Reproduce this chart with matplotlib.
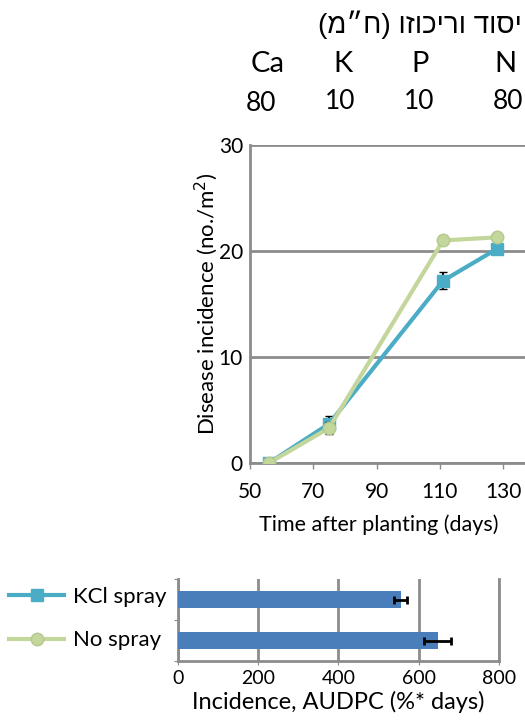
import matplotlib.pyplot as plt
from matplotlib.lines import Line2D

# data
dias = [56, 75, 111, 128]
kcl = [0.0, 3.7, 17.2, 20.2]
kcl_err = [0.3, 0.7, 0.8, 0.4]
sin_spray = [0.0, 3.3, 21.0, 21.3]
sin_spray_err = [0.2, 0.6, 0.3, 0.3]

tratamientos = ['KCl spray', 'No spray']
audpc = [555, 648]
audpc_err = [15, 34]

elementos = ['Ca', 'K', 'P', 'N']
concentraciones = ['80', '10', '10', '80']
titulo = 'יסוד וריכוזו (ח״מ)'

azul = '#4bacc6'
verde = '#c3d69b'
gris = '#8c8c8c'


def visual_rtl(texto):
    # matplotlib has no bidi support: reverse and mirror brackets by hand
    espejo = {'(': ')', ')': '('}
    return ''.join(espejo.get(c, c) for c in reversed(texto))


fig = plt.figure(figsize=(5.25, 7.22), dpi=100)
fuente = 'Lato'

# encabezado
fig.text(0.994, 0.966, visual_rtl(titulo), ha='right', va='center',
         fontsize=20, family=['Liberation Sans', 'DejaVu Sans'])
x_el = [0.509, 0.653, 0.80, 0.962]
x_num = [0.497, 0.648, 0.798, 0.968]
for i in range(len(elementos)):
    fig.text(x_el[i], 0.911, elementos[i], ha='center', va='center', fontsize=21, family=fuente)
    dy = 0.856 if i == 0 else 0.860
    fig.text(x_num[i], dy, concentraciones[i], ha='center', va='center', fontsize=19, family=fuente)

# grafico de lineas
ax = fig.add_axes([0.476, 0.3587, 0.524, 0.4403])
ax.errorbar(dias, kcl, yerr=kcl_err, color=azul, lw=3, marker='s', ms=9,
            mfc=azul, mec=azul, ecolor='black', elinewidth=1.5, capsize=3, zorder=3)
ax.errorbar(dias, sin_spray, yerr=sin_spray_err, color=verde, lw=3, marker='o', ms=9,
            mfc=verde, mec='#b5c98c', ecolor='black', elinewidth=1.5, capsize=3, zorder=4)
ax.set_xlim(50, 136.9)
ax.set_ylim(0, 30)
ax.set_xticks([50, 70, 90, 110, 130])
ax.set_yticks([0, 10, 20, 30])
ax.grid(axis='y', color=gris, lw=2)
ax.set_axisbelow(True)
for s in ['top', 'right']:
    ax.spines[s].set_visible(False)
for s in ['left', 'bottom']:
    ax.spines[s].set_color(gris)
    ax.spines[s].set_linewidth(2)
ax.tick_params(axis='both', labelsize=15, colors=gris, labelcolor='black', length=4, width=1)
ax.tick_params(axis='x', pad=10)
ax.tick_params(axis='y', length=0, pad=5)
for lab in ax.get_xticklabels() + ax.get_yticklabels():
    lab.set_family(fuente)
# titulo del eje x justo debajo de las marcas
fig.text(0.721, 0.2729, 'Time after planting (days)', ha='center', va='center',
         fontsize=15.5, family=fuente)
ax.set_ylabel('Disease incidence (no./m$^2$)', fontsize=16, family=fuente, va='center')
ax.yaxis.set_label_coords(-0.158, 0.5)

# grafico de barras
bx = fig.add_axes([0.339, 0.0845, 0.611, 0.1135])
pos = [1, 0]
bx.barh(pos, audpc, height=0.4, color='#4a7ebb', xerr=audpc_err,
        error_kw=dict(ecolor='black', elinewidth=2, capsize=3, capthick=2), zorder=3)
bx.set_xlim(0, 800)
bx.set_ylim(-0.5, 1.5)
bx.set_xticks([0, 200, 400, 600, 800])
bx.set_yticks([-0.5, 0.5, 1.5])
bx.set_yticklabels([])
bx.grid(axis='x', color=gris, lw=2)
bx.set_axisbelow(True)
bx.spines['top'].set_visible(False)
for s in ['left', 'bottom', 'right']:
    bx.spines[s].set_color(gris)
    bx.spines[s].set_linewidth(2)
bx.tick_params(axis='both', labelsize=14, colors=gris, labelcolor='black', length=3)
for lab in bx.get_xticklabels():
    lab.set_family(fuente)
bx.set_xlabel('Incidence, AUDPC (%* days)', fontsize=17, family=fuente, labelpad=3)

# leyenda
handles = [Line2D([], [], color=azul, lw=3, marker='s', ms=9, mfc=azul, mec=azul),
           Line2D([], [], color=verde, lw=3, marker='o', ms=9, mfc=verde, mec='#b5c98c')]
fig.legend(handles, tratamientos, loc='center left', bbox_to_anchor=(0.0, 0.143),
           frameon=False, handlelength=2.5, handletextpad=0.4, labelspacing=1.05,
           borderaxespad=0, borderpad=0.4, prop={'family': fuente, 'size': 16})

fig.savefig('out.png', dpi=100)
